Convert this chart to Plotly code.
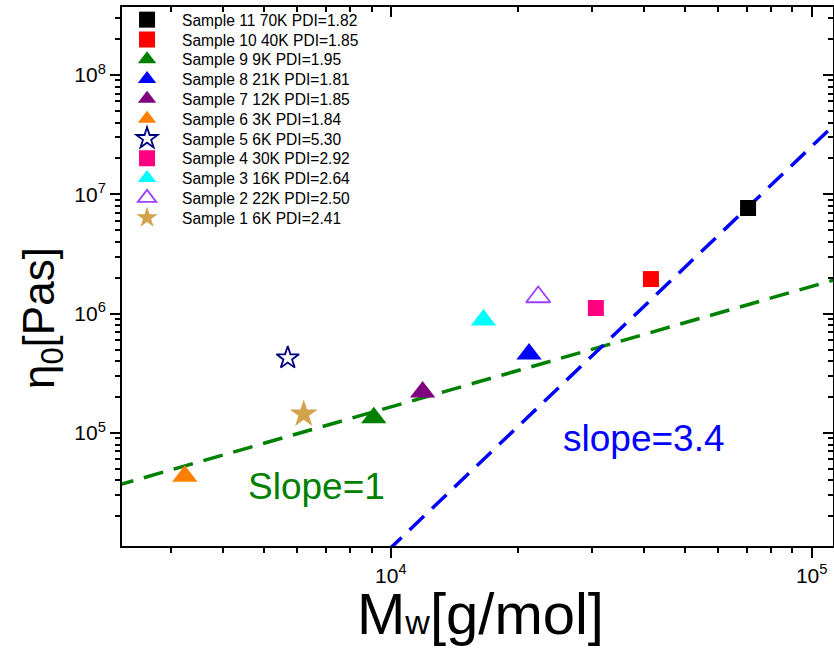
import plotly.graph_objects as go

# ---- data ----
names = ["Sample 11 70K PDI=1.82", "Sample 10 40K PDI=1.85", "Sample 9 9K PDI=1.95",
         "Sample 8 21K PDI=1.81", "Sample 7 12K PDI=1.85", "Sample 6 3K PDI=1.84",
         "Sample 5 6K PDI=5.30", "Sample 4 30K PDI=2.92", "Sample 3 16K PDI=2.64",
         "Sample 2 22K PDI=2.50", "Sample 1 6K PDI=2.41"]
mw = [70600, 41500, 9110, 21300, 11900, 3240, 5690, 30700, 16600, 22400, 6210]
eta0 = [7.68e6, 1.95e6, 1.34e5, 4.59e5, 2.21e5, 4.35e4, 4.25e5, 1.115e6, 8.85e5, 1.38e6, 1.44e5]
colors = ["#000000", "#FF0000", "#008000", "#0000FF", "#800080", "#FF8000",
          "#000080", "#FF0080", "#00FFFF", "#A040FF", "#D2A24C"]
symbols = ["square", "square", "triangle-up", "triangle-up", "triangle-up", "triangle-up",
           "star-open", "square", "triangle-up", "triangle-up-open", "star"]
sizes = [16, 16, 22, 22, 22, 22, 17, 16, 22, 21, 21]

# fit lines (end points)
slope1_x = [2200, 115000]
slope1_y = [3.58e4, 1.95e6]
slope34_x = [9800, 115000]
slope34_y = [1.02e4, 4.04e7]

xrange_log = [3.3613, 5.0506]
yrange_log = [4.053, 8.570]
x_major = [1e4, 1e5]
x_major_text = ["10<sup>4</sup>", "10<sup>5</sup>"]
y_major = [1e5, 1e6, 1e7, 1e8]
y_major_text = ["10<sup>5</sup>", "10<sup>6</sup>", "10<sup>7</sup>", "10<sup>8</sup>"]

x_minor = [m * 10 ** d for d in range(3, 6) for m in range(2, 10)]
y_minor = [m * 10 ** d for d in range(4, 9) for m in range(2, 10)]

fig = go.Figure()

fig.add_trace(go.Scatter(x=slope1_x, y=slope1_y, mode="lines", showlegend=False,
                         line=dict(color="#008000", width=3.5, dash="20px,11px")))
fig.add_trace(go.Scatter(x=slope34_x, y=slope34_y, mode="lines", showlegend=False,
                         line=dict(color="#0000FF", width=3.5, dash="20px,11px")))

legend_font = dict(family="Liberation Sans, Arial", size=15.6, color="black")
legend_layouts = {}
for i, (n, x, y, c, s, sz) in enumerate(zip(names, mw, eta0, colors, symbols, sizes)):
    open_ = s.endswith("open")
    key = "legend" if i == 0 else f"legend{i + 1}"
    fig.add_trace(go.Scatter(
        x=[x], y=[y], mode="markers", name=n, legend=key,
        marker=dict(symbol=s, size=sz, color=c,
                    line=dict(color=c, width=1.8 if open_ else 0))))
    top_px = 3 + 19.8 * i
    legend_layouts[key] = dict(x=-0.014, y=(546 - top_px) / 539, xanchor="left", yanchor="top",
                               font=legend_font, bgcolor="rgba(0,0,0,0)", itemwidth=60)

# dummy trace for mirrored top/right axes
fig.add_trace(go.Scatter(x=[], y=[], xaxis="x2", yaxis="y2", showlegend=False))

tickfont = dict(family="Liberation Sans, Arial", size=21, color="black")

fig.update_layout(
    width=834, height=651,
    margin=dict(l=122, r=1, t=7, b=105),
    paper_bgcolor="white", plot_bgcolor="white",
    showlegend=True,
    xaxis=dict(type="log", range=xrange_log, showgrid=False, zeroline=False,
               showline=True, linecolor="black", linewidth=2,
               ticks="outside", ticklen=10, tickwidth=1.5, tickcolor="black",
               tickvals=x_major, ticktext=x_major_text, tickfont=tickfont,
               minor=dict(ticks="outside", ticklen=5, tickwidth=1.5, tickcolor="black",
                          tickvals=x_minor, showgrid=False)),
    yaxis=dict(type="log", range=yrange_log, showgrid=False, zeroline=False,
               showline=True, linecolor="black", linewidth=2,
               ticks="outside", ticklen=10, tickwidth=1.5, tickcolor="black",
               tickvals=y_major, ticktext=y_major_text, tickfont=tickfont,
               minor=dict(ticks="outside", ticklen=5, tickwidth=1.5, tickcolor="black",
                          tickvals=y_minor, showgrid=False)),
    xaxis2=dict(type="log", range=xrange_log, overlaying="x", side="top",
                showgrid=False, zeroline=False, showline=True, linecolor="black", linewidth=2,
                ticks="inside", ticklen=10, tickwidth=1.5, tickcolor="black",
                tickvals=x_major, showticklabels=False,
                minor=dict(ticks="inside", ticklen=5, tickwidth=1.5, tickcolor="black",
                           tickvals=x_minor, showgrid=False)),
    yaxis2=dict(type="log", range=yrange_log, overlaying="y", side="right",
                showgrid=False, zeroline=False, showline=True, linecolor="black", linewidth=2,
                ticks="inside", ticklen=10, tickwidth=1.5, tickcolor="black",
                tickvals=y_major, showticklabels=False,
                minor=dict(ticks="inside", ticklen=5, tickwidth=1.5, tickcolor="black",
                           tickvals=y_minor, showgrid=False)),
    annotations=[
        dict(text="M<span style='font-size:34px'>w</span>[g/mol]", xref="paper", yref="paper",
             x=(480 - 122) / 711, y=-(613 - 546) / 539, xanchor="center", yanchor="middle",
             showarrow=False,
             font=dict(family="Liberation Sans, Arial", size=58, color="black")),
        dict(text="η<sub>0</sub>[Pas]", xref="paper", yref="paper",
             x=-(122 - 42) / 711, y=(546 - 318) / 539, xanchor="center", yanchor="middle",
             textangle=-90, showarrow=False,
             font=dict(family="Liberation Sans, Arial", size=44, color="black")),
        dict(text="Slope=1", xref="paper", yref="paper",
             x=(316 - 122) / 711, y=(546 - 486) / 539, xanchor="center", yanchor="middle",
             showarrow=False, font=dict(family="Liberation Sans, Arial", size=37, color="#008000")),
        dict(text="slope=3.4", xref="paper", yref="paper",
             x=(644 - 122) / 711, y=(546 - 438) / 539, xanchor="center", yanchor="middle",
             showarrow=False, font=dict(family="Liberation Sans, Arial", size=37, color="#0000FF")),
    ],
)
fig.update_layout(**legend_layouts)

fig.write_html("out.html")
